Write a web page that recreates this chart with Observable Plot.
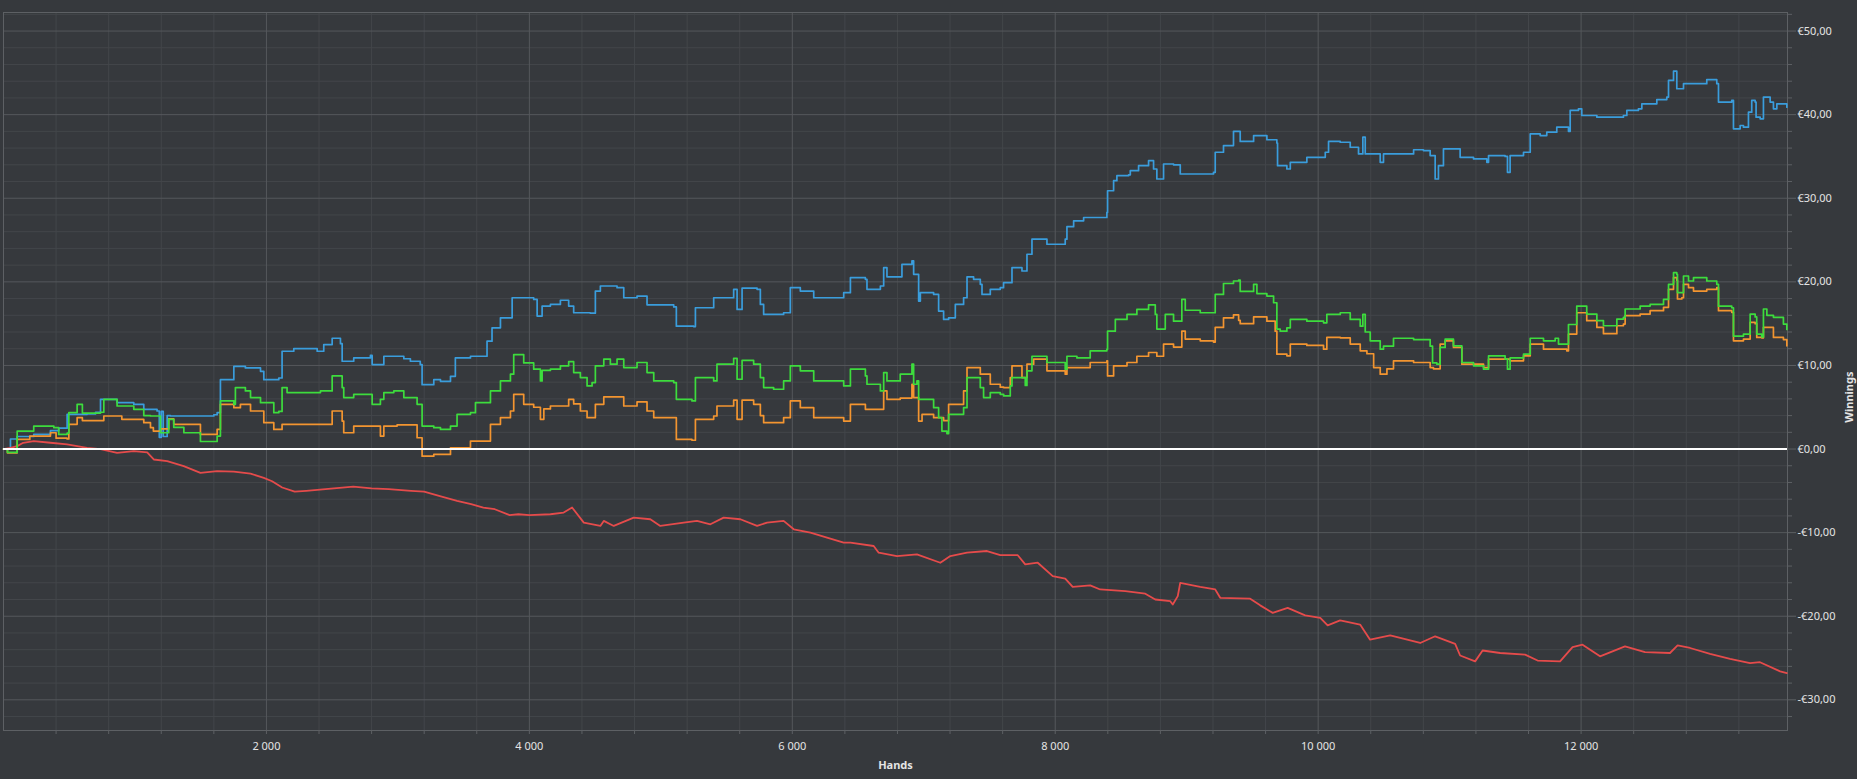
<!DOCTYPE html>
<html>
<head>
<meta charset="utf-8">
<script src="https://cdn.jsdelivr.net/npm/d3@7"></script>
<script src="https://cdn.jsdelivr.net/npm/@observablehq/plot@0.6"></script>
<style>
  html, body { margin: 0; padding: 0; background: #36393d; }
  #chart svg { display: block; }
</style>
</head>
<body>
<div id="chart"></div>
<script>
// ---- Data ----
const blueHands = [0,53,104,230,357,420,484,636,700,738,864,991,1067,1168,1185,1200,1215,1245,1270,1600,1625,1650,1752,1840,1955,1980,2094,2119,2208,2386,2436,2500,2563,2576,2664,2791,2804,2893,3045,3095,3170,3184,3273,3324,3400,3437,3552,3678,3716,3780,3869,4033,4059,4097,4160,4236,4299,4337,4464,4502,4540,4667,4718,4819,4895,5098,5118,5250,5263,5402,5554,5580,5618,5732,5757,5782,5934,5985,6061,6163,6391,6442,6556,6568,6670,6695,6720,6796,6834,6910,6923,6961,6974,7075,7113,7151,7189,7240,7303,7329,7379,7430,7443,7506,7582,7607,7671,7747,7785,7823,7937,8076,8089,8140,8216,8393,8398,8444,8469,8558,8571,8634,8710,8748,8773,8824,8900,8951,9103,9204,9217,9280,9356,9395,9407,9509,9610,9686,9691,9762,9788,9914,10054,10079,10168,10244,10307,10340,10358,10472,10497,10726,10801,10852,10890,10915,10953,11004,11080,11182,11283,11296,11422,11440,11460,11562,11613,11689,11739,11815,11904,11917,11980,12005,12120,12322,12348,12436,12462,12576,12652,12665,12703,12728,12779,12880,12956,13032,13045,13146,13159,13210,13235,13273,13298,13324,13331,13362,13387,13438,13463,13489,13565];
const blueWinnings = [0,1.2,1.5,1.75,2.2,2.5,4.15,4.2,4.4,5.95,5.55,5.35,4.75,4.55,1.4,4.5,1.5,4.0,3.95,4.1,4.35,8.3,9.9,9.7,9.3,8.3,8.5,11.7,12.0,11.7,12.5,13.25,12.6,10.5,10.9,11.2,10.1,11.1,10.8,10.5,10.1,7.7,8.3,8.1,8.7,10.9,11.1,12.9,14.5,15.7,18.1,17.9,15.9,17.1,17.3,17.8,17.1,16.3,16.25,18.9,19.5,19.3,18.1,18.3,17.25,17.0,14.7,14.65,16.9,18.1,19.1,16.7,19.25,19.1,17.3,16.1,16.3,19.3,18.9,18.1,18.7,20.5,20.3,19.1,19.5,21.7,20.6,20.6,22.1,22.5,20.9,17.7,18.7,18.5,16.5,15.5,15.7,17.3,18.1,20.6,20.3,19.7,18.5,19.1,19.3,19.9,21.7,21.3,23.3,25.1,24.5,25.1,26.6,27.3,27.7,28.3,30.9,32.1,32.7,32.8,33.3,33.9,34.5,33.5,32.3,34.1,34.0,32.9,32.9,33.1,35.5,36.3,38.0,38.0,36.8,37.5,37.0,36.6,33.9,33.5,34.3,34.9,35.5,36.8,36.7,36.1,35.3,37.3,35.3,34.3,35.3,35.8,35.7,35.1,32.3,33.9,35.9,35.9,34.9,34.7,34.3,35.1,35.0,33.1,35.1,35.5,37.7,37.5,37.9,38.5,38.0,40.5,40.7,39.9,39.7,39.9,40.5,40.7,41.3,41.8,42.1,44.1,45.2,43.1,43.7,43.7,44.2,43.7,41.5,41.7,38.3,38.7,38.5,40.3,41.7,41.5,39.7,39.5,42.1,41.5,40.7,41.3,40.9];

const greenHands = [0,30,90,104,230,383,420,484,497,560,600,738,763,864,991,1067,1118,1194,1257,1295,1372,1498,1625,1650,1752,1764,1840,1879,1955,2056,2094,2119,2157,2309,2411,2500,2576,2588,2664,2766,2804,2867,2893,2969,3045,3146,3184,3273,3324,3400,3450,3552,3590,3653,3704,3780,3856,3881,3957,4033,4084,4097,4160,4236,4299,4337,4388,4439,4477,4502,4566,4616,4667,4718,4819,4895,4946,5098,5118,5237,5263,5402,5427,5554,5580,5618,5706,5757,5782,5858,5934,5985,6061,6163,6391,6442,6556,6568,6670,6695,6720,6821,6910,6923,6948,6961,7075,7113,7138,7176,7189,7303,7329,7430,7455,7506,7582,7608,7658,7671,7772,7785,7823,7937,8076,8089,8165,8266,8393,8398,8457,8546,8621,8710,8761,8773,8824,8837,8900,8963,8989,9103,9204,9217,9280,9356,9395,9407,9509,9534,9610,9661,9686,9711,9762,9788,9914,10041,10066,10168,10244,10320,10340,10358,10396,10472,10497,10573,10726,10852,10870,10903,10928,10966,11029,11093,11182,11258,11296,11422,11440,11460,11562,11613,11714,11803,11828,11891,11904,11967,12043,12120,12170,12272,12322,12335,12424,12449,12525,12627,12665,12703,12728,12733,12766,12779,12817,12855,12956,13032,13045,13146,13159,13235,13286,13324,13336,13374,13387,13413,13463,13539,13565];
const greenWinnings = [0,-0.4,-0.4,2.15,2.75,2.55,1.75,1.9,4.35,5.35,4.3,4.4,5.95,5.15,4.75,4.0,3.95,1.95,3.55,2.6,1.95,0.9,1.55,5.75,5.35,7.35,6.95,6.15,5.55,4.35,4.5,7.35,6.75,6.75,6.95,8.75,7.35,6.15,6.55,6.55,5.35,5.95,6.75,6.95,6.15,5.35,2.75,2.55,2.35,2.75,4.15,4.35,5.55,5.55,6.95,8.15,8.95,11.3,10.3,9.55,8.15,9.4,9.55,9.95,10.45,9.15,8.55,7.55,7.95,9.95,10.75,10.15,10.75,9.75,10.35,9.15,8.15,7.95,5.95,5.75,8.55,8.15,10.15,10.85,8.35,10.6,10.15,8.55,7.35,7.15,8.15,9.95,9.35,8.15,7.55,9.55,8.75,7.75,6.95,9.15,8.15,8.95,10.15,7.75,8.15,5.95,4.95,3.75,2.15,1.85,4.15,4.95,8.55,7.35,6.15,6.75,6.55,6.35,7.55,8.55,7.6,9.35,11.1,10.35,9.55,11.1,10.9,11.75,11.95,14.1,15.5,16.1,16.7,17.25,16.1,14.35,14.35,16.1,15.3,17.9,16.6,16.3,16.3,18.5,19.8,20.1,20.2,18.85,19.7,18.6,18.3,17.5,14.35,14.1,14.5,15.5,15.3,15.1,16.1,16.3,15.5,14.7,16.1,14.0,12.95,11.95,12.3,13.25,13.1,12.3,10.3,10.15,12.15,13.15,12.35,10.35,9.95,9.55,11.15,10.75,9.55,10.9,11.35,13.25,12.95,13.25,12.55,12.55,14.9,17.1,16.15,15.35,14.75,15.55,15.75,16.75,16.75,17.1,17.3,17.9,19.7,21.1,20.9,18.7,18.7,20.7,20.1,20.5,20.1,19.7,17.1,16.9,13.5,13.75,16.15,15.8,13.75,13.4,16.75,16.0,15.75,14.95,14.3];

const orangeHands = [0,30,90,104,200,357,400,484,497,560,600,738,763,900,991,1067,1118,1140,1194,1257,1295,1372,1498,1625,1650,1752,1802,1879,1980,2056,2119,2386,2500,2576,2588,2664,2791,2867,2893,2994,3146,3184,3273,3400,3552,3704,3780,3856,3881,3957,4033,4084,4110,4160,4299,4337,4388,4439,4502,4566,4667,4718,4819,4895,4946,5098,5118,5237,5263,5402,5427,5554,5580,5618,5706,5757,5782,5858,5934,5985,6061,6163,6391,6442,6556,6670,6695,6720,6821,6910,6923,6961,6987,7075,7151,7189,7303,7329,7430,7506,7582,7608,7658,7671,7747,7785,7836,7937,8076,8089,8266,8393,8398,8444,8546,8621,8710,8773,8824,8900,8963,8989,9103,9204,9217,9280,9356,9395,9407,9509,9610,9673,9686,9762,9788,9914,10041,10066,10168,10244,10320,10371,10422,10472,10523,10573,10726,10852,10877,10928,10966,11029,11093,11258,11296,11460,11562,11613,11714,11891,11904,11967,12043,12120,12170,12272,12322,12335,12449,12525,12627,12665,12703,12728,12733,12766,12779,12817,12855,12956,13032,13045,13146,13159,13235,13286,13324,13336,13374,13387,13463,13539,13565];
const orangeWinnings = [0,-0.45,-0.45,1.15,1.55,1.95,1.3,1.2,2.95,3.75,3.4,3.4,3.95,3.55,3.55,3.15,2.55,2.15,2.4,3.6,2.95,2.95,1.75,2.35,5.35,4.95,5.35,4.55,3.15,2.35,2.95,2.95,4.55,3.35,1.95,2.75,2.75,1.55,2.75,2.9,1.35,-0.85,-0.65,0.15,0.95,2.95,3.75,4.55,6.55,5.35,5.0,3.55,4.8,5.15,5.95,5.4,4.55,3.75,5.35,6.25,6.25,5.15,5.65,4.55,3.75,3.75,1.15,1.05,3.55,3.95,5.15,5.85,3.55,5.85,5.35,4.0,3.15,3.15,3.75,5.75,4.95,3.75,3.35,5.35,4.75,4.75,6.95,5.95,6.1,7.75,6.15,3.35,4.15,3.75,3.4,5.35,6.95,9.75,8.95,7.75,7.4,7.35,8.55,9.95,8.55,10.15,10.75,9.35,8.95,9.75,10.35,10.55,8.75,9.95,10.35,11.1,11.55,11.1,12.55,12.2,14.1,13.15,12.95,12.8,14.55,15.7,16.05,15.4,15.0,15.8,15.3,14.1,11.35,11.15,12.55,12.4,11.95,13.35,13.3,12.55,11.75,11.4,9.75,8.95,9.6,10.55,10.35,9.75,9.6,12.55,12.95,12.15,10.15,9.75,10.75,10.55,11.15,12.55,11.95,11.75,13.75,16.3,15.35,14.55,13.8,14.75,14.95,15.95,16.15,16.55,16.95,19.1,20.5,20.2,17.95,18.1,19.7,19.3,18.9,19.1,19.3,16.55,16.35,12.95,13.15,15.15,15.0,13.35,13.3,14.55,13.35,13.1,12.35];

const redHands = [0,53,104,150,230,357,484,636,738,864,991,1093,1143,1245,1371,1498,1625,1752,1879,1980,2043,2120,2215,2303,2450,2661,2800,2930,3100,3199,3333,3450,3557,3650,3737,3850,3916,4000,4160,4261,4325,4414,4540,4566,4642,4794,4920,4996,5174,5275,5377,5478,5605,5732,5808,5934,6011,6138,6264,6391,6442,6619,6657,6796,6948,7126,7202,7329,7481,7582,7715,7772,7867,7981,8076,8133,8266,8342,8533,8685,8761,8875,8894,8932,8951,9103,9217,9255,9483,9559,9654,9768,9901,10016,10072,10167,10319,10395,10548,10776,10890,11042,11080,11194,11251,11384,11574,11669,11840,11935,12011,12144,12334,12486,12676,12734,12829,12981,13133,13285,13361,13514,13565];
const redWinnings = [0,0.15,0.35,0.75,0.95,0.75,0.55,0.15,0.0,-0.45,-0.25,-0.4,-1.25,-1.45,-2.05,-2.85,-2.65,-2.7,-2.95,-3.45,-3.85,-4.6,-5.1,-5.0,-4.8,-4.5,-4.7,-4.8,-5.0,-5.1,-5.7,-6.2,-6.6,-7.0,-7.2,-7.9,-7.8,-7.9,-7.8,-7.6,-7.0,-8.8,-9.2,-8.6,-9.2,-8.2,-8.4,-9.2,-8.8,-8.6,-9.0,-8.2,-8.4,-9.2,-8.8,-8.6,-9.6,-10.0,-10.6,-11.2,-11.2,-11.6,-12.4,-12.8,-12.6,-13.6,-12.8,-12.4,-12.2,-12.7,-12.7,-13.8,-13.6,-15.2,-15.5,-16.5,-16.3,-16.8,-17.0,-17.3,-18.0,-18.2,-18.6,-17.6,-16.0,-16.5,-16.8,-17.8,-17.9,-18.7,-19.6,-19.0,-19.9,-20.2,-21.1,-20.5,-21.0,-22.8,-22.3,-23.2,-22.4,-23.3,-24.7,-25.4,-24.1,-24.4,-24.6,-25.3,-25.4,-23.7,-23.4,-24.8,-23.6,-24.3,-24.4,-23.5,-23.8,-24.5,-25.1,-25.6,-25.5,-26.6,-26.8];

const xMajorTicks = [2000, 4000, 6000, 8000, 10000, 12000];
const yMajorTicks = [-30, -20, -10, 0, 10, 20, 30, 40, 50];
const xLabel = "Hands";
const yLabel = "Winnings";

// ---- Build tables ----
const toRows = (hs, vs) => hs.map((h, i) => ({hands: h, value: vs[i]}));
const blue = toRows(blueHands, blueWinnings);
const green = toRows(greenHands, greenWinnings);
const orange = toRows(orangeHands, orangeWinnings);
const red = toRows(redHands, redWinnings);

const xMinor = d3.range(400, 13570, 400).filter(v => v % 2000 !== 0);
const yMinor = d3.range(-32, 53, 2).filter(v => v % 10 !== 0);

const fmtEuro = v => (v < 0 ? "-" : "") + "€" + Math.abs(v).toFixed(2).replace(".", ",");
const fmtHands = v => d3.format(",")(v).replace(/,/g, " ");

const textColor = "#e4e4e4";
const minorGrid = "#43464a";
const majorGrid = "#55585c";

const chart = Plot.plot({
  width: 1857,
  height: 779,
  marginTop: 12,
  marginRight: 70,
  marginBottom: 49,
  marginLeft: 3,
  style: {background: "#36393d", color: textColor, fontFamily: "'Noto Sans', 'Open Sans', sans-serif", fontSize: "11px"},
  x: {domain: [0, 13570]},
  y: {domain: [-33.67, 52.22]},
  marks: [
    Plot.ruleX(xMinor, {stroke: minorGrid, strokeWidth: 1}),
    Plot.ruleY(yMinor, {stroke: minorGrid, strokeWidth: 1}),
    Plot.ruleX(xMajorTicks, {stroke: majorGrid, strokeWidth: 1}),
    Plot.ruleY(yMajorTicks, {stroke: majorGrid, strokeWidth: 1}),
    Plot.frame({stroke: "#5d6064", strokeWidth: 1}),
    // minor ticks
    Plot.axisY(yMinor, {anchor: "right", tickSize: 4, stroke: "#5d6064", tickFormat: () => "", label: null}),
    Plot.axisX(xMinor, {anchor: "bottom", tickSize: 4, stroke: "#5d6064", tickFormat: () => "", label: null}),
    // major ticks with labels
    Plot.axisY(yMajorTicks, {anchor: "right", tickSize: 8, tickPadding: 2, stroke: "#5d6064", fill: textColor, tickFormat: fmtEuro, label: null, fontSize: 11}),
    Plot.axisX(xMajorTicks, {anchor: "bottom", tickSize: 4, tickPadding: 8, stroke: "#5d6064", fill: textColor, tickFormat: fmtHands, label: null, fontSize: 11}),
    // series
    Plot.line(blue, {x: "hands", y: "value", stroke: "#3a9ddc", strokeWidth: 1.7, curve: "step-after"}),
    Plot.line(red, {x: "hands", y: "value", stroke: "#e54b4b", strokeWidth: 1.8}),
    Plot.line(orange, {x: "hands", y: "value", stroke: "#f39530", strokeWidth: 1.7, curve: "step-after"}),
    Plot.line(green, {x: "hands", y: "value", stroke: "#3ddc3d", strokeWidth: 1.7, curve: "step-after"}),
    // zero line
    Plot.ruleY([0], {stroke: "#ffffff", strokeWidth: 2}),
    // axis titles
    Plot.text([xLabel], {frameAnchor: "bottom", dy: 38, text: d => d, fill: textColor, fontWeight: "bold", fontSize: 11}),
    Plot.text([yLabel], {frameAnchor: "right", dx: 62, rotate: -90, text: d => d, fill: textColor, fontWeight: "bold", fontSize: 11})
  ]
});
document.getElementById("chart").appendChild(chart);
</script>
</body>
</html>
